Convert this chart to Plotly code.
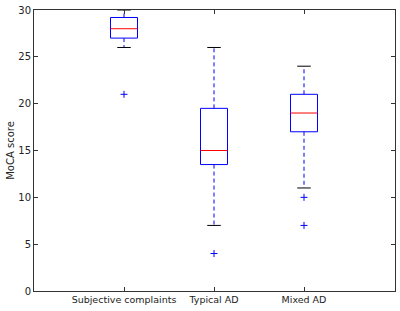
import plotly.graph_objects as go

categories = ["Subjective complaints", "Typical AD", "Mixed AD"]
lower_whisker = [26, 7, 11]
q1 = [27, 13.5, 17]
median = [28, 15, 19]
q3 = [29.2, 19.5, 21]
upper_whisker = [30, 26, 24]
outliers = [[21], [4], [10, 7]]

y_ticks = [0, 5, 10, 15, 20, 25, 30]

BOX_HALF = 0.15
CAP_HALF = 0.075
BLUE = "#0000ff"
RED = "#ff0000"

fig = go.Figure()
for i, cat in enumerate(categories):
    p = i + 1
    # whiskers
    fig.add_trace(go.Scatter(
        x=[p, p], y=[q3[i], upper_whisker[i]],
        mode="lines", line=dict(color=BLUE, width=1, dash="4px,3px"), hoverinfo="skip"))
    fig.add_trace(go.Scatter(
        x=[p, p], y=[q1[i], lower_whisker[i]],
        mode="lines", line=dict(color=BLUE, width=1, dash="4px,3px"), hoverinfo="skip"))
    # box
    fig.add_trace(go.Scatter(
        x=[p - BOX_HALF, p + BOX_HALF, p + BOX_HALF, p - BOX_HALF, p - BOX_HALF],
        y=[q1[i], q1[i], q3[i], q3[i], q1[i]],
        mode="lines", line=dict(color=BLUE, width=1), hoverinfo="skip"))
    # median
    fig.add_trace(go.Scatter(
        x=[p - BOX_HALF, p + BOX_HALF], y=[median[i], median[i]],
        mode="lines", line=dict(color=RED, width=1), hoverinfo="skip"))
    # caps
    fig.add_trace(go.Scatter(
        x=[p - CAP_HALF, p + CAP_HALF, None, p - CAP_HALF, p + CAP_HALF],
        y=[upper_whisker[i], upper_whisker[i], None, lower_whisker[i], lower_whisker[i]],
        mode="lines", line=dict(color="black", width=1), hoverinfo="skip"))
    # outliers
    fig.add_trace(go.Scatter(
        x=[p] * len(outliers[i]), y=outliers[i], mode="markers",
        marker=dict(symbol="cross-thin", size=5, line=dict(color=BLUE, width=1)),
        hoverinfo="skip"))

axis_common = dict(
    showline=True, linecolor="#333333", linewidth=1, mirror="allticks",
    ticks="inside", ticklen=4, tickcolor="#333333", showgrid=False, zeroline=False,
)

fig.update_layout(
    width=400, height=311,
    margin=dict(l=34, r=5, t=10, b=20),
    paper_bgcolor="white", plot_bgcolor="white",
    showlegend=False,
    xaxis=dict(range=[0, 361 / 90], tickvals=[1, 2, 3], ticktext=categories,
               tickfont=dict(family="DejaVu Sans", size=9.5, color="#222222"), **axis_common),
    yaxis=dict(range=[0, 30], tickvals=y_ticks,
               tickfont=dict(family="DejaVu Sans", size=10, color="#222222"),
               title=dict(text="MoCA score", standoff=1,
                          font=dict(family="DejaVu Sans", size=10, color="#222222")),
               **axis_common),
)

fig.write_html("out.html", config={"displayModeBar": False},
               post_script="document.body.style.margin='0';")
